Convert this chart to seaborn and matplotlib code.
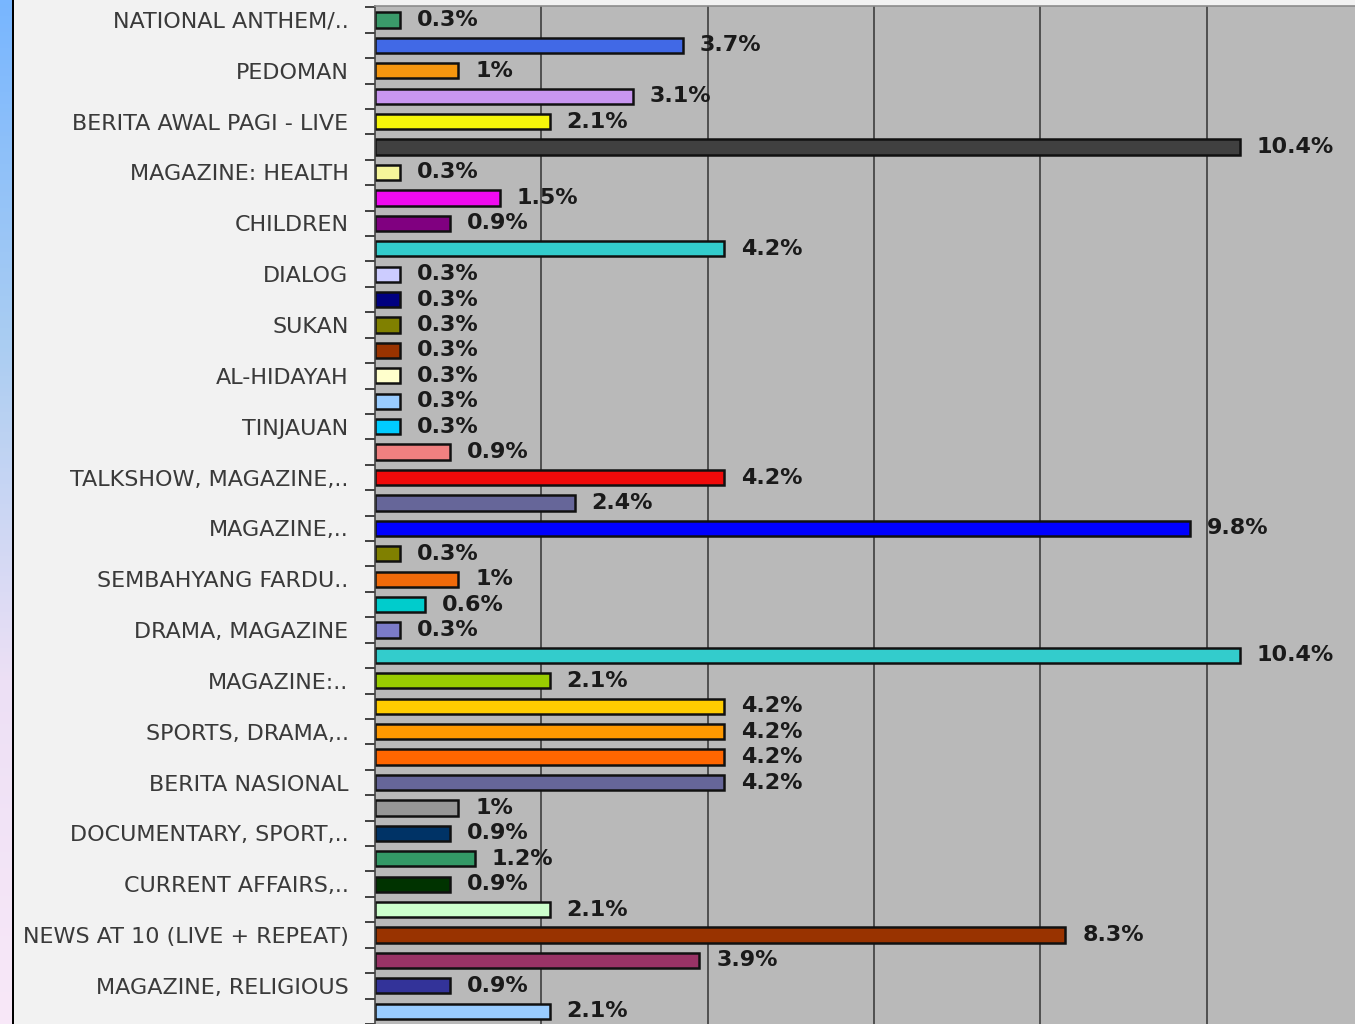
import numpy as np
import matplotlib
matplotlib.use("Agg")
import matplotlib.pyplot as plt
from matplotlib.colors import LinearSegmentedColormap
import seaborn as sns

# donnees (une barre par ligne, etiquette une ligne sur deux)
labels = ["NATIONAL ANTHEM/..", "", "PEDOMAN", "", "BERITA AWAL PAGI - LIVE", "",
          "MAGAZINE: HEALTH", "", "CHILDREN", "", "DIALOG", "", "SUKAN", "",
          "AL-HIDAYAH", "", "TINJAUAN", "", "TALKSHOW, MAGAZINE,..", "",
          "MAGAZINE,..", "", "SEMBAHYANG FARDU..", "", "DRAMA, MAGAZINE", "",
          "MAGAZINE:..", "", "SPORTS, DRAMA,..", "", "BERITA NASIONAL", "",
          "DOCUMENTARY, SPORT,..", "", "CURRENT AFFAIRS,..", "",
          "NEWS AT 10 (LIVE + REPEAT)", "", "MAGAZINE, RELIGIOUS", ""]
values = [0.3, 3.7, 1.0, 3.1, 2.1, 10.4, 0.3, 1.5, 0.9, 4.2,
          0.3, 0.3, 0.3, 0.3, 0.3, 0.3, 0.3, 0.9, 4.2, 2.4,
          9.8, 0.3, 1.0, 0.6, 0.3, 10.4, 2.1, 4.2, 4.2, 4.2,
          4.2, 1.0, 0.9, 1.2, 0.9, 2.1, 8.3, 3.9, 0.9, 2.1]
colors = ["#3a9a6a", "#4169e6", "#f5960f", "#c896f0", "#f5f50a", "#404040",
          "#f5f59a", "#f00af0", "#800080", "#33cccc", "#ccccff", "#000080",
          "#808000", "#993300", "#ffffcc", "#99ccff", "#00ccff", "#f08080",
          "#f00a0a", "#666699", "#0000ff", "#808000", "#f06a0a", "#00cccc",
          "#7b7bc9", "#33cccc", "#99cc00", "#ffcc00", "#ff9900", "#ff6600",
          "#666699", "#969696", "#003366", "#339966", "#003300", "#ccffcc",
          "#993300", "#993366", "#333399", "#99ccff"]

rows = [str(i) for i in range(len(values))]

sns.set_style("white")
plt.rcParams['font.family'] = ['DejaVu Sans']

fig = plt.figure(figsize=(13.55, 10.24), dpi=100)
fig.patch.set_facecolor("#f2f2f2")
ax = fig.add_axes([375/1355, 0, 1 - 375/1355, 1 - 6/1024])
ax.set_facecolor("#b9b9b9")

sns.barplot(x=values, y=rows, hue=rows, palette=colors, orient="h",
            edgecolor="#111111", linewidth=1.8, width=0.6, legend=False,
            saturation=1, ax=ax)

ax.set_xlim(0, 980/83.17)
ax.set_ylim(len(values) - 1 + 0.35, -0.55)

# grille verticale
for g in [2, 4, 6, 8, 10]:
    ax.axvline(g, color="#505050", lw=1.4, zorder=0)
ax.set_axisbelow(True)

# etiquettes des valeurs
for i, v in enumerate(values):
    ax.text(v + 17/83.17, i, f"{v:g}%", va="center", ha="left",
            fontsize=16, fontweight="bold", color="#1a1a1a")

# axes y : etiquettes une ligne sur deux, traits aux separations
lab_pos = [i for i, l in enumerate(labels) if l]
ax.set_yticks(lab_pos)
ax.set_yticklabels([labels[i] for i in lab_pos], fontsize=16, color="#3a3a3a")
ax.tick_params(axis="y", which="major", length=0, pad=19)
ax.set_yticks(np.arange(-0.5, len(values), 1), minor=True)
ax.tick_params(axis="y", which="minor", length=7, width=1.3, color="#333333", left=True)
ax.set_xticks([])
ax.set_xlabel("")
ax.set_ylabel("")

for s in ["right", "bottom"]:
    ax.spines[s].set_visible(False)
ax.spines["left"].set_color("#444444")
ax.spines["left"].set_linewidth(1.2)
ax.spines["top"].set_color("#8c8c8c")
ax.spines["top"].set_linewidth(1.2)

# bande degradee a gauche
strip = fig.add_axes([0, 0, 12/1355, 1])
cmap = LinearSegmentedColormap.from_list("bande", ["#78b6ff", "#aacdf2", "#ede0f5", "#f8e8f8"])
strip.imshow(np.linspace(0, 1, 256).reshape(-1, 1), aspect="auto", cmap=cmap)
strip.axis("off")
line = fig.add_axes([12/1355, 0, 2.5/1355, 1])
line.set_facecolor("black")
line.set_xticks([])
line.set_yticks([])
for s in line.spines.values():
    s.set_visible(False)

fig.savefig("out.png", dpi=100, facecolor=fig.get_facecolor())
